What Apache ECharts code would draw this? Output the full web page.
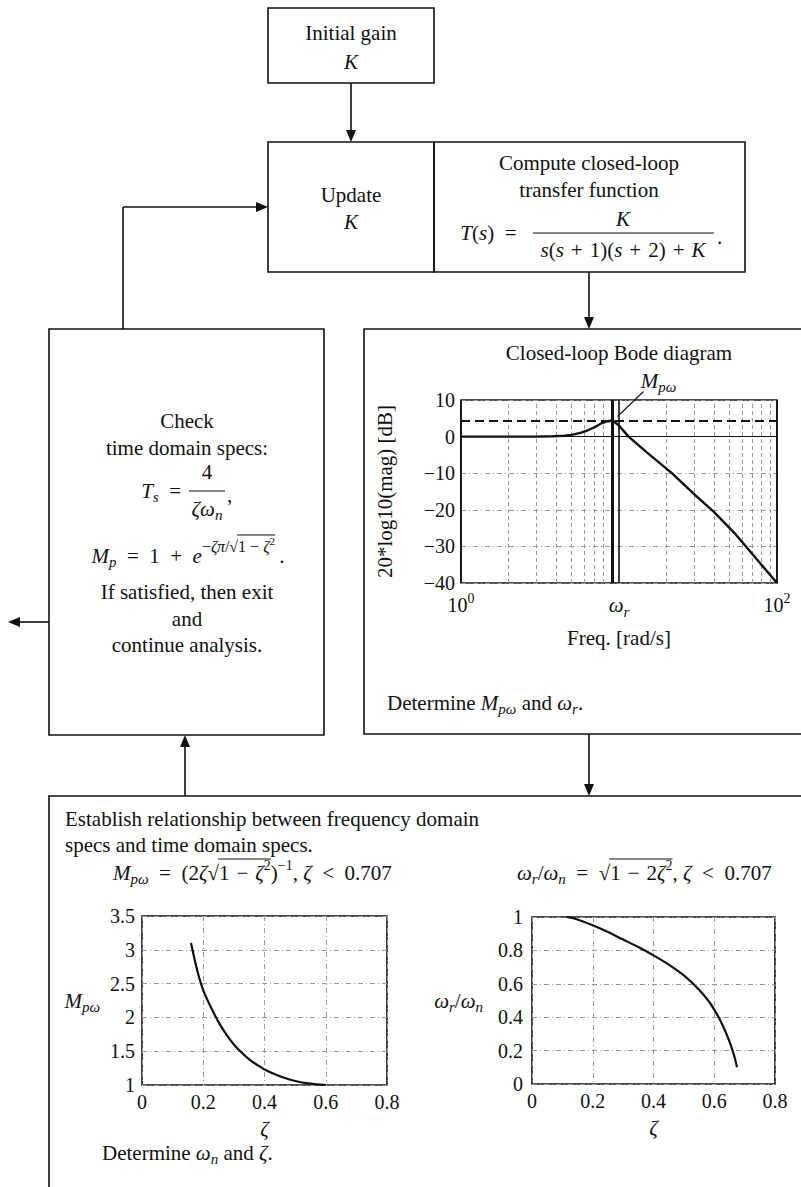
<!DOCTYPE html>
<html><head><meta charset="utf-8">
<script src="https://cdn.jsdelivr.net/npm/echarts@6/dist/echarts.min.js"></script>
<style>html,body{margin:0;padding:0;background:#fff}#c{width:801px;height:1187px}</style>
</head><body><div id="c"></div>
<script>
// ---------- data ----------
const bodeFreq = [1, 2, 3, 3.8, 4.5, 5, 5.7, 6.4, 7.1, 7.8, 8.5, 9.1, 10, 11.5, 15, 21.6, 30, 39.7, 55, 74.7, 100];
const bodeMag  = [0, 0, 0, 0.1, 0.25, 0.45, 1.0, 1.8, 2.7, 3.7, 4.2, 4.4, 3.0, 0, -4.3, -10, -15.8, -20.5, -26.8, -33.6, -40];
const minorFreqs = [2, 3, 4, 5, 6, 7, 8, 9, 20, 30, 40, 50, 60, 70, 80, 90];
const omegaR = 9.1;     // resonant frequency marker
const mpDb = 4.4;       // peak magnitude (dB) dashed line
const bodeYTicks = [-40, -30, -20, -10, 0, 10];

const zetaMp = [0.16, 0.18, 0.2, 0.225, 0.25, 0.275, 0.3, 0.325, 0.35, 0.375, 0.4, 0.45, 0.5, 0.55, 0.6];
const mpVals = [3.1, 2.7, 2.4, 2.15, 1.93, 1.75, 1.6, 1.48, 1.38, 1.3, 1.23, 1.13, 1.06, 1.02, 1.0];

const zetaWr = [0.115, 0.15, 0.2, 0.25, 0.3, 0.35, 0.4, 0.45, 0.5, 0.55, 0.58, 0.6, 0.62, 0.64, 0.655, 0.667, 0.675];
const wrVals = [1.0, 0.985, 0.95, 0.91, 0.865, 0.82, 0.77, 0.715, 0.65, 0.565, 0.5, 0.445, 0.38, 0.3, 0.23, 0.16, 0.1];

// ---------- helpers ----------
const F = '"Liberation Serif","Times New Roman",serif';
const INK = '#111';
const BASE = 21;
const mctx = document.createElement('canvas').getContext('2d');
function fnt(p){ return (p.it ? 'italic ' : '') + (p.s || BASE) + 'px ' + F; }
function tw(p){ mctx.font = fnt(p); return mctx.measureText(p.t).width; }
const G = [];
function run(x, y, pieces, align){
  const w = pieces.map(tw);
  const total = w.reduce((a,b)=>a+b,0);
  let cx = align === 'center' ? x - total/2 : (align === 'right' ? x - total : x);
  let ol = null;
  const flush = () => { if (ol){ G.push({type:'line', silent:true, z:50, shape:{x1:ol.x1, y1:ol.y, x2:ol.x2, y2:ol.y}, style:{stroke:INK, lineWidth:1}}); ol = null; } };
  pieces.forEach((p,i)=>{
    G.push({type:'text', silent:true, z:50, x:cx, y:y + (p.dy||0),
      style:{text:p.t, font:fnt(p), fill:INK, align:'left', verticalAlign:'middle', textAlign:'left', textVerticalAlign:'middle'}});
    if (p.ol){
      const oy = y + (p.oly !== undefined ? p.oly : -14);
      if (!ol) ol = {x1:cx - 1, y:oy, x2:cx + w[i]}; else ol.x2 = cx + w[i];
    } else flush();
    cx += w[i];
  });
  flush();
}
function txt(x, y, t, it){ run(x, y, [{t:t, it:it}], 'center'); }
function rect(x, y, w, h){ G.push({type:'rect', silent:true, z:40, shape:{x:x, y:y, width:w, height:h}, style:{fill:'none', stroke:INK, lineWidth:1.6}}); }
function seg(x1, y1, x2, y2, lw){ G.push({type:'line', silent:true, z:40, shape:{x1:x1,y1:y1,x2:x2,y2:y2}, style:{stroke:INK, lineWidth:lw||1.6}}); }
function head(x, y, dir){
  const L = 12, H = 5; let pts;
  if (dir==='down') pts = [[x,y],[x-H,y-L],[x+H,y-L]];
  else if (dir==='up') pts = [[x,y],[x-H,y+L],[x+H,y+L]];
  else if (dir==='left') pts = [[x,y],[x+L,y-H],[x+L,y+H]];
  else pts = [[x,y],[x-L,y-H],[x-L,y+H]];
  G.push({type:'polygon', silent:true, z:41, shape:{points:pts}, style:{fill:INK}});
}
const EN = '\u2002', SP = '\u2004';

// ---------- flowchart blocks ----------
rect(268, 8, 166, 75);
txt(351, 33, 'Initial gain'); txt(351, 62, 'K', true);
seg(351, 83, 351, 132); head(351, 142, 'down');

rect(268, 142, 166, 130); rect(434, 142, 311, 130);
txt(351, 195, 'Update'); txt(351, 222, 'K', true);
txt(589, 163, 'Compute closed-loop'); txt(589, 190, 'transfer function');
run(527, 233, [{t:'T',it:1},{t:'('},{t:'s',it:1},{t:')' + EN + '=' + EN}], 'right');
run(623, 219, [{t:'K',it:1}], 'center');
seg(533, 233, 714, 233, 1.1);
run(623, 250, [{t:'s',it:1},{t:'('},{t:'s',it:1},{t:SP+'+'+SP+'1)('},{t:'s',it:1},{t:SP+'+'+SP+'2)'+SP+'+'+SP},{t:'K',it:1}], 'center');
run(717, 237, [{t:'.'}], 'left');

// feedback K loop
seg(123, 329, 123, 207); seg(123, 207, 258, 207); head(268, 207, 'right');
// compute -> bode
seg(589, 272, 589, 319); head(589, 329, 'down');

// check box
rect(49, 329, 275, 406);
txt(187, 421, 'Check'); txt(187, 448, 'time domain specs:');
run(181, 491, [{t:'T',it:1},{t:'s',it:1,s:15,dy:6},{t:EN+'='}], 'right');
run(207, 472, [{t:'4'}], 'center');
seg(189, 491, 225, 491, 1.1);
run(207, 509, [{t:'\u03B6',it:1},{t:'\u03C9',it:1},{t:'n',it:1,s:15,dy:6}], 'center');
run(227, 495, [{t:','}], 'left');
run(188, 556, [{t:'M',it:1},{t:'p',it:1,s:15,dy:6},{t:EN+'='+EN+'1'+EN+'+'+EN},{t:'e',it:1},
  {t:'\u2212',s:16,dy:-10},{t:'\u03B6\u03C0',it:1,s:16,dy:-10},{t:'/',s:16,dy:-10},{t:'\u221A',s:16,dy:-10},
  {t:'1 \u2212 ',s:16,dy:-10,ol:1,oly:-21},{t:'\u03B6',it:1,s:16,dy:-10,ol:1,oly:-21},{t:'2',s:11,dy:-15,ol:1,oly:-21},{t:'\u2009.'}], 'center');
txt(187, 592, 'If satisfied, then exit'); txt(187, 619, 'and'); txt(187, 645, 'continue analysis.');
// exit arrow and up arrow
seg(49, 622, 19, 622); head(8, 622, 'left');
seg(185, 796, 185, 746); head(185, 735, 'up');

// bode box
rect(364, 329, 445, 405);
txt(619, 353, 'Closed-loop Bode diagram');
run(387, 703, [{t:'Determine '},{t:'M',it:1},{t:'p\u03C9',it:1,s:15,dy:6},{t:' and '},{t:'\u03C9',it:1},{t:'r',it:1,s:15,dy:6},{t:'.'}], 'left');
seg(589, 734, 589, 785); head(589, 796, 'down');

// bottom box
rect(49, 796, 760, 400);
run(65, 819, [{t:'Establish relationship between frequency domain'}], 'left');
run(65, 845, [{t:'specs and time domain specs.'}], 'left');
run(113, 873, [{t:'M',it:1},{t:'p\u03C9',it:1,s:15,dy:6},{t:EN+'='+EN+'(2'},{t:'\u03B6',it:1},{t:'\u221A'},
  {t:'1'+SP+'\u2212'+SP,ol:1},{t:'\u03B6',it:1,ol:1},{t:'2',s:14,dy:-8,ol:1},{t:')'},{t:'\u22121',s:14,dy:-8},{t:', '},{t:'\u03B6',it:1},{t:EN+'<'+EN+'0.707'}], 'left');
run(517, 873, [{t:'\u03C9',it:1},{t:'r',it:1,s:15,dy:6},{t:'/'},{t:'\u03C9',it:1},{t:'n',it:1,s:15,dy:6},{t:EN+'='+EN},{t:'\u221A'},
  {t:'1'+SP+'\u2212'+SP+'2',ol:1},{t:'\u03B6',it:1,ol:1},{t:'2',s:14,dy:-8,ol:1},{t:', '},{t:'\u03B6',it:1},{t:EN+'<'+EN+'0.707'}], 'left');
run(102, 1153, [{t:'Determine '},{t:'\u03C9',it:1},{t:'n',it:1,s:15,dy:6},{t:' and '},{t:'\u03B6',it:1},{t:'.'}], 'left');

// ---------- charts ----------
const lbl = {fontFamily:F, fontSize:20, color:INK};
const dotted = {show:true, lineStyle:{color:'#9a9a9a', width:1, type:[5,3,1,3]}};
const nameStyle = {fontFamily:F, fontSize:BASE, color:INK};
const richMath = {
  i:{fontFamily:F, fontStyle:'italic', fontSize:BASE, color:INK, lineHeight:28},
  n:{fontFamily:F, fontSize:BASE, color:INK, lineHeight:28},
  nt:{fontFamily:F, fontSize:20, color:INK, lineHeight:28},
  s:{fontFamily:F, fontStyle:'italic', fontSize:15, color:INK, lineHeight:14, verticalAlign:'bottom'},
  sup:{fontFamily:F, fontSize:14, color:INK, lineHeight:14, verticalAlign:'top'}
};
const frame = {show:true, borderColor:INK, borderWidth:1.6, backgroundColor:'transparent'};

const chart = echarts.init(document.getElementById('c'), null, {renderer:'svg', width:801, height:1187});
chart.setOption({
  animation:false,
  backgroundColor:'#fff',
  grid:[
    Object.assign({left:461, top:400, width:316, height:183}, frame),
    Object.assign({left:142, top:916, width:245, height:169}, frame),
    Object.assign({left:532, top:917, width:243, height:167}, frame)
  ],
  xAxis:[
    {gridIndex:0, type:'log', logBase:10, min:1, max:100,
     axisLine:{show:false}, axisTick:{show:false},
     splitLine:{show:true, lineStyle:{color:INK, width:1.6, type:'solid'}},
     axisLabel:Object.assign({}, lbl, {margin:8, lineHeight:28, rich:richMath,
       formatter:function(v){ const e = Math.round(Math.log10(v));
         if (e===0) return '{nt|10}{sup|0}'; if (e===1) return '{i|\u03C9}{s|r}'; if (e===2) return '{nt|10}{sup|2}'; return ''; }}),
     name:'Freq. [rad/s]', nameLocation:'middle', nameGap:44, nameTextStyle:nameStyle},
    {gridIndex:1, type:'value', min:0, max:0.8, interval:0.2,
     axisLine:{show:false}, axisTick:{show:false}, splitLine:dotted,
     axisLabel:Object.assign({}, lbl, {margin:7}),
     name:'\u03B6', nameLocation:'middle', nameGap:33, nameTextStyle:Object.assign({}, nameStyle, {fontStyle:'italic'})},
    {gridIndex:2, type:'value', min:0, max:0.8, interval:0.2,
     axisLine:{show:false}, axisTick:{show:false}, splitLine:dotted,
     axisLabel:Object.assign({}, lbl, {margin:7}),
     name:'\u03B6', nameLocation:'middle', nameGap:33, nameTextStyle:Object.assign({}, nameStyle, {fontStyle:'italic'})}
  ],
  yAxis:[
    {gridIndex:0, type:'value', min:bodeYTicks[0], max:bodeYTicks[bodeYTicks.length-1], interval:10,
     axisLine:{show:false}, axisTick:{show:false}, splitLine:dotted,
     axisLabel:Object.assign({}, lbl, {margin:6, formatter:function(v){ return v < 0 ? '\u2212' + Math.abs(v) : String(v); }}),
     name:'20*log10(mag) [dB]', nameLocation:'middle', nameRotate:90, nameGap:66, nameTextStyle:nameStyle},
    {gridIndex:1, type:'value', min:1, max:3.5, interval:0.5,
     axisLine:{show:false}, axisTick:{show:false}, splitLine:dotted,
     axisLabel:Object.assign({}, lbl, {margin:7}),
     name:'{i|M}{s|p\u03C9}', nameLocation:'middle', nameRotate:0, nameGap:42, nameTextStyle:Object.assign({}, nameStyle, {rich:richMath})},
    {gridIndex:2, type:'value', min:0, max:1, interval:0.2,
     axisLine:{show:false}, axisTick:{show:false}, splitLine:dotted,
     axisLabel:Object.assign({}, lbl, {margin:9}),
     name:'{i|\u03C9}{s|r}{n|/}{i|\u03C9}{s|n}', nameLocation:'middle', nameRotate:0, nameGap:49, nameTextStyle:Object.assign({}, nameStyle, {rich:richMath})}
  ],
  series:[
    {type:'line', xAxisIndex:0, yAxisIndex:0, symbol:'none', silent:true, z:5,
     data:bodeFreq.map(function(f,i){ return [f, bodeMag[i]]; }),
     lineStyle:{color:INK, width:2.4},
     markLine:{silent:true, symbol:['none','none'], label:{show:false}, animation:false,
       data:minorFreqs.map(function(f){ return {xAxis:f, lineStyle:{color:'#9a9a9a', width:1, type:[4,3]}}; }).concat([
         {yAxis:0, lineStyle:{color:INK, width:1.2, type:'solid'}},
         {yAxis:mpDb, lineStyle:{color:INK, width:1.8, type:[9,5]}},
         {xAxis:omegaR, lineStyle:{color:INK, width:3, type:'solid'}}
       ])}},
    {type:'line', xAxisIndex:1, yAxisIndex:1, symbol:'none', silent:true,
     data:zetaMp.map(function(z,i){ return [z, mpVals[i]]; }), smooth:0.3,
     lineStyle:{color:INK, width:2.2}},
    {type:'line', xAxisIndex:2, yAxisIndex:2, symbol:'none', silent:true,
     data:zetaWr.map(function(z,i){ return [z, wrVals[i]]; }), smooth:0.3,
     lineStyle:{color:INK, width:2.2}}
  ]
});

// M_pw annotation anchored to the peak through the axes
const pk = chart.convertToPixel({xAxisIndex:0, yAxisIndex:0}, [omegaR, mpDb]);
seg(pk[0] + 5, pk[1] - 4, pk[0] + 31, pk[1] - 29, 1.1);
run(pk[0] + 46, pk[1] - 39, [{t:'M',it:1},{t:'p\u03C9',it:1,s:15,dy:6}], 'center');

chart.setOption({graphic:{elements:G}});
</script>
</body></html>
